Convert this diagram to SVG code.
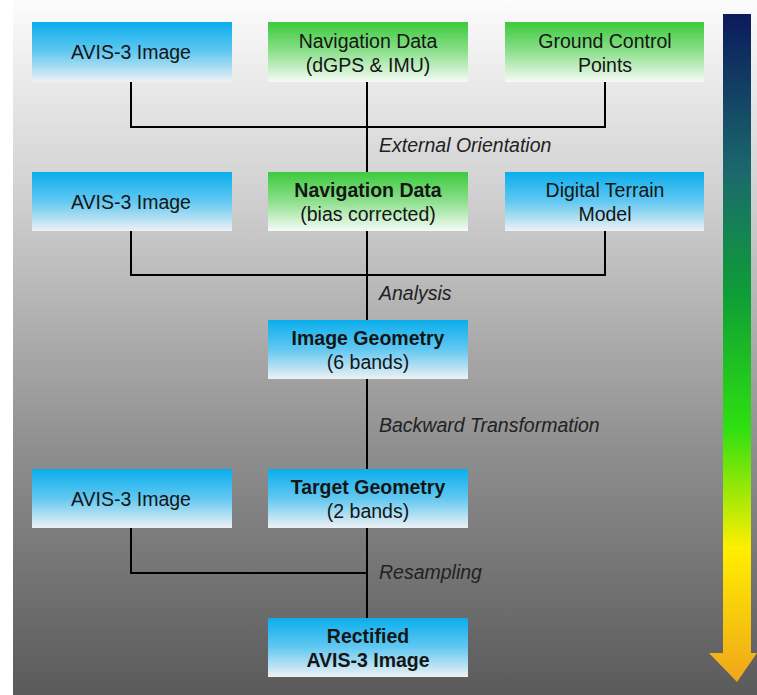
<svg xmlns="http://www.w3.org/2000/svg" width="757" height="695" viewBox="0 0 757 695">
<defs>
<linearGradient id="bg" x1="0" y1="0" x2="0" y2="1">
<stop offset="0" stop-color="#fcfcfc"/>
<stop offset="0.3" stop-color="#cdcdcd"/>
<stop offset="0.65" stop-color="#8e8e8e"/>
<stop offset="1" stop-color="#5a5a5a"/>
</linearGradient>
<linearGradient id="blue" x1="0" y1="0" x2="0" y2="1">
<stop offset="0" stop-color="#0aaeec"/>
<stop offset="0.5" stop-color="#62c8f1"/>
<stop offset="1" stop-color="#eef1f4"/>
</linearGradient>
<linearGradient id="green" x1="0" y1="0" x2="0" y2="1">
<stop offset="0" stop-color="#3cca3c"/>
<stop offset="0.5" stop-color="#8ee08e"/>
<stop offset="1" stop-color="#f6fbf6"/>
</linearGradient>
<linearGradient id="arr" gradientUnits="userSpaceOnUse" x1="0" y1="14" x2="0" y2="682">
<stop offset="0" stop-color="#0b1a5c"/>
<stop offset="0.24" stop-color="#1b6a6c"/>
<stop offset="0.42" stop-color="#0e9e36"/>
<stop offset="0.62" stop-color="#2ee010"/>
<stop offset="0.8" stop-color="#ffef00"/>
<stop offset="1" stop-color="#f0a51a"/>
</linearGradient>
<style>
.bx{stroke:none}
.t{font-family:"Liberation Sans",Arial,sans-serif;font-size:19.5px;fill:#151515;text-anchor:middle}
.b{font-weight:bold}
.lab{font-family:"Liberation Sans",Arial,sans-serif;font-size:19.5px;font-style:italic;fill:#222}
.c{stroke:#000;stroke-width:2;fill:none}
</style>
</defs>
<rect x="0" y="0" width="757" height="695" fill="#ffffff"/>
<rect x="13" y="0" width="744" height="695" fill="url(#bg)"/>
<polygon points="723,14 751,14 751,653 757,653 737,682 709,653 723,653" fill="url(#arr)"/>
<g id="connectors">
<path class="c" d="M131,82 V127 H605 V82"/>
<path class="c" d="M367,82 V172"/>
<path class="c" d="M131,231 V275 H605 V231"/>
<path class="c" d="M367,231 V320"/>
<path class="c" d="M367,379 V469"/>
<path class="c" d="M131,528 V573 H367"/>
<path class="c" d="M367,528 V618"/>
<text class="lab" x="379" y="152">External Orientation</text>
<text class="lab" x="379" y="300">Analysis</text>
<text class="lab" x="379" y="432">Backward Transformation</text>
<text class="lab" x="379" y="579">Resampling</text>
</g>
<g id="avis1"><rect class="bx" x="32" y="22" width="200" height="60" fill="url(#blue)"/><text class="t" x="131" y="59">AVIS-3 Image</text></g>
<g id="nav1"><rect class="bx" x="268" y="22" width="200" height="60" fill="url(#green)"/><text class="t" x="368" y="48">Navigation Data</text><text class="t" x="368" y="72">(dGPS &amp; IMU)</text></g>
<g id="gcp"><rect class="bx" x="505" y="22" width="199" height="60" fill="url(#green)"/><text class="t" x="605" y="48">Ground Control</text><text class="t" x="605" y="72">Points</text></g>
<g id="avis2"><rect class="bx" x="32" y="172" width="200" height="59" fill="url(#blue)"/><text class="t" x="131" y="209">AVIS-3 Image</text></g>
<g id="nav2"><rect class="bx" x="268" y="172" width="200" height="59" fill="url(#green)"/><text class="t b" x="368" y="197">Navigation Data</text><text class="t" x="368" y="221">(bias corrected)</text></g>
<g id="dtm"><rect class="bx" x="505" y="172" width="199" height="59" fill="url(#blue)"/><text class="t" x="605" y="197">Digital Terrain</text><text class="t" x="605" y="221">Model</text></g>
<g id="imggeo"><rect class="bx" x="268" y="320" width="200" height="59" fill="url(#blue)"/><text class="t b" x="368" y="345">Image Geometry</text><text class="t" x="368" y="369">(6 bands)</text></g>
<g id="avis3"><rect class="bx" x="32" y="469" width="200" height="59" fill="url(#blue)"/><text class="t" x="131" y="506">AVIS-3 Image</text></g>
<g id="tgtgeo"><rect class="bx" x="268" y="469" width="200" height="59" fill="url(#blue)"/><text class="t b" x="368" y="494">Target Geometry</text><text class="t" x="368" y="518">(2 bands)</text></g>
<g id="rect"><rect class="bx" x="268" y="618" width="200" height="59" fill="url(#blue)"/><text class="t b" x="368" y="643">Rectified</text><text class="t b" x="368" y="667">AVIS-3 Image</text></g>
</svg>
